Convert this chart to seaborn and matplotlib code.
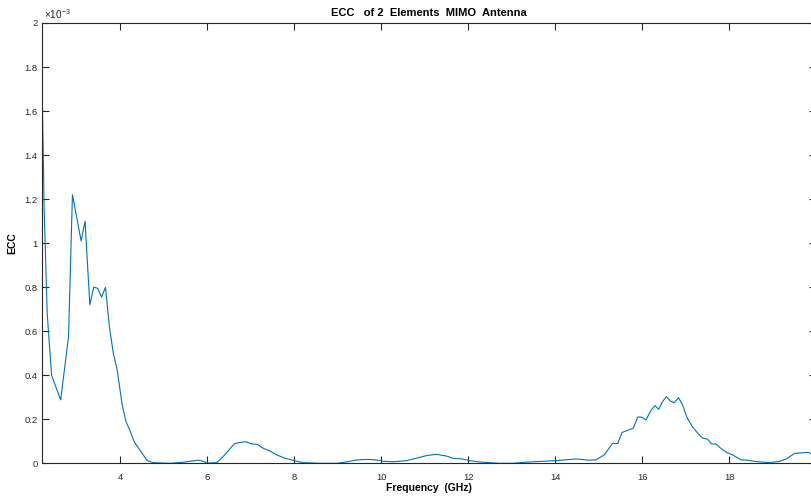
import matplotlib
matplotlib.use("Agg")
import matplotlib.pyplot as plt
from matplotlib.ticker import FuncFormatter, MultipleLocator
import seaborn as sns
import pandas as pd

# Envelope correlation coefficient of the two-element MIMO antenna (units of 1e-3)
freq_ghz = [
    2.20, 2.25, 2.32, 2.42, 2.63, 2.81, 2.90, 3.10, 3.19, 3.30, 3.39, 3.48,
    3.57, 3.66, 3.75, 3.84, 3.93, 4.04, 4.13, 4.22, 4.32, 4.45, 4.62, 4.76,
    5.00, 5.15, 5.45, 5.79, 5.91, 6.00, 6.22, 6.33, 6.48, 6.62, 6.75, 6.89,
    7.02, 7.15, 7.29, 7.44, 7.60, 7.79, 8.00, 8.21, 8.60, 8.97, 9.20, 9.43,
    9.70, 9.90, 10.05, 10.28, 10.58, 10.81, 11.04, 11.27, 11.50, 11.65, 11.85,
    12.04, 12.27, 12.71, 13.02, 13.40, 13.79, 14.02, 14.25, 14.48, 14.78,
    14.94, 15.13, 15.32, 15.44, 15.54, 15.67, 15.80, 15.90, 15.99, 16.09,
    16.21, 16.30, 16.38, 16.47, 16.56, 16.65, 16.74, 16.84, 16.93, 17.04,
    17.16, 17.27, 17.39, 17.50, 17.60, 17.70, 17.81, 17.93, 18.08, 18.28,
    18.39, 18.62, 18.93, 19.16, 19.32, 19.51, 19.70, 19.82, 19.90, 20.00,
]
ecc_e3 = [
    1.738, 1.150, 0.680, 0.400, 0.288, 0.575, 1.220, 1.010, 1.100, 0.720, 0.800, 0.795,
    0.755, 0.800, 0.620, 0.500, 0.424, 0.270, 0.190, 0.150, 0.098, 0.060, 0.012, 0.003,
    0.001, 0.000, 0.005, 0.014, 0.009, 0.001, 0.003, 0.023, 0.056, 0.088, 0.095, 0.098,
    0.088, 0.086, 0.068, 0.056, 0.038, 0.023, 0.012, 0.003, 0.000, 0.000, 0.006, 0.015,
    0.018, 0.015, 0.009, 0.007, 0.012, 0.023, 0.035, 0.041, 0.033, 0.023, 0.020,
    0.012, 0.006, 0.000, 0.000, 0.006, 0.010, 0.012, 0.016, 0.020, 0.014,
    0.016, 0.038, 0.090, 0.090, 0.140, 0.150, 0.160, 0.210, 0.210, 0.197,
    0.242, 0.262, 0.245, 0.280, 0.303, 0.283, 0.275, 0.298, 0.265, 0.205,
    0.166, 0.139, 0.114, 0.110, 0.088, 0.088, 0.068, 0.051, 0.038, 0.015,
    0.015, 0.008, 0.003, 0.009, 0.020, 0.045, 0.048, 0.050, 0.042, 0.040,
]

df = pd.DataFrame({"Frequency": freq_ghz, "ECC": [v * 1e-3 for v in ecc_e3]})

sns.set_theme(style="white")
plt.rcParams["font.family"] = ["Liberation Sans", "DejaVu Sans"]
plt.rcParams["mathtext.fontset"] = "custom"
plt.rcParams["mathtext.rm"] = "Liberation Sans"

ink = "#262626"
fig = plt.figure(figsize=(8.12, 4.96), dpi=100)
ax = fig.add_axes([42 / 812, 32.7 / 496, (816 - 42) / 812, (473 - 32.7) / 496])

sns.lineplot(data=df, x="Frequency", y="ECC", ax=ax, color="#0072BD", linewidth=0.8)

ax.set_xlim(2.2, 20)
ax.set_ylim(0, 2e-3)
ax.xaxis.set_major_locator(MultipleLocator(2))
ax.yaxis.set_major_locator(MultipleLocator(0.2e-3))
ax.yaxis.set_major_formatter(FuncFormatter(lambda v, p: f"{v * 1e3:g}"))

for s in ax.spines.values():
    s.set_visible(True)
    s.set_color(ink)
    s.set_linewidth(0.8)
ax.tick_params(axis="both", which="major", direction="in", length=5, width=0.8,
               color=ink, labelcolor=ink, labelsize=6.8, top=True, right=True,
               bottom=True, left=True)
ax.tick_params(axis="x", pad=7)
ax.tick_params(axis="y", pad=3)

ax.text(0.003, 1.004, r"$\mathrm{\times 10^{-3}}$", transform=ax.transAxes, fontsize=7.2,
        color=ink, ha="left", va="bottom")

ax.set_title("ECC   of 2  Elements  MIMO  Antenna", fontsize=8, fontweight="bold",
             color="black", pad=5)
ax.set_xlabel("Frequency  (GHz)", fontsize=7.5, fontweight="bold", color="black", labelpad=1)
ax.set_ylabel("ECC", fontsize=7.5, fontweight="bold", color="black", labelpad=5)

fig.savefig("out.png", dpi=100)
